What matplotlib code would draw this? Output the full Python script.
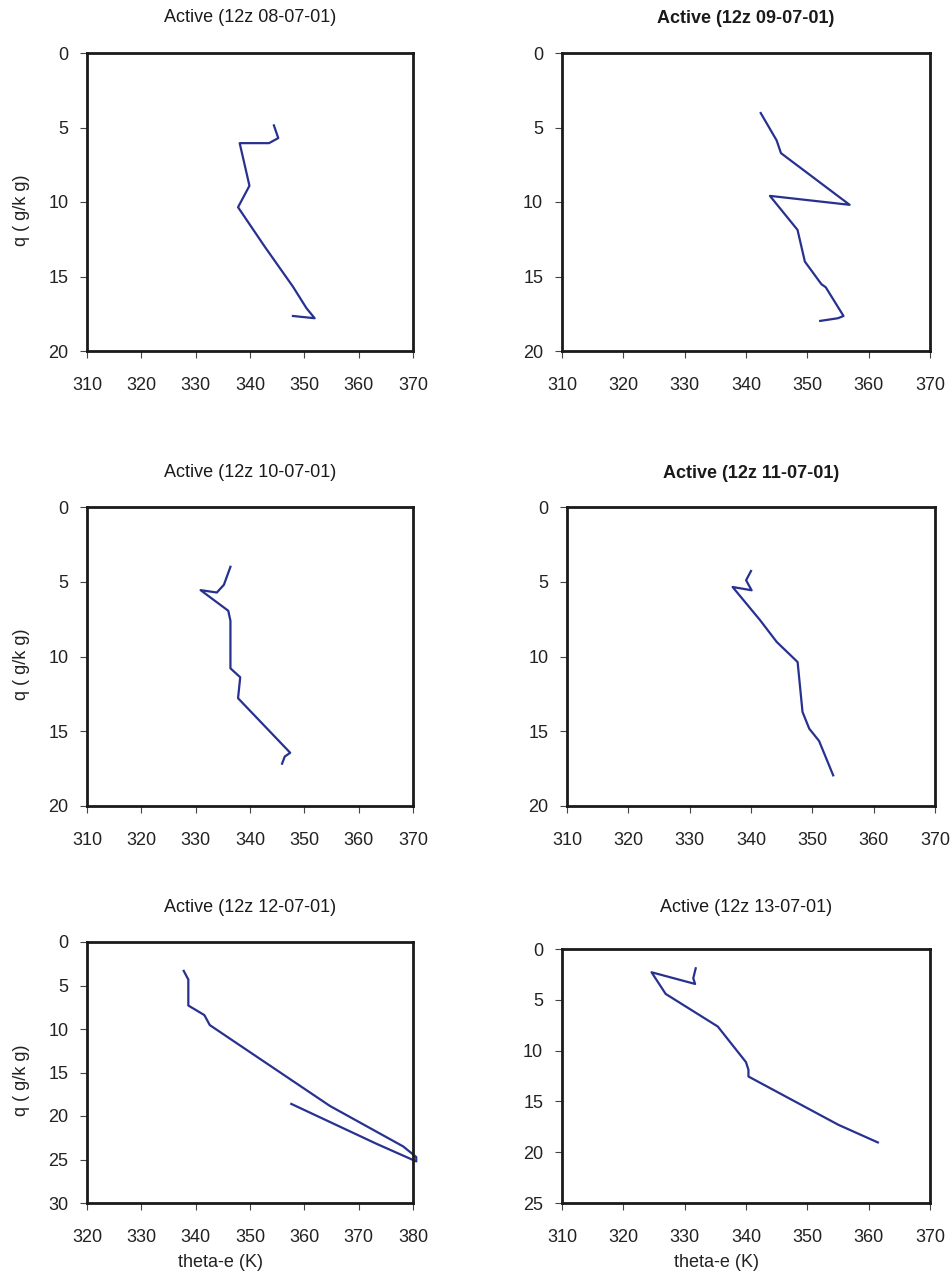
#!/usr/bin/env python3
"""
Theta-e against q profiles, six active days
"""
import matplotlib
matplotlib.use('Agg')
import matplotlib.pyplot as plt

titles = ['Active (12z 08-07-01)', 'Active (12z 09-07-01)',
          'Active (12z 10-07-01)', 'Active (12z 11-07-01)',
          'Active (12z 12-07-01)', 'Active (12z 13-07-01)']
bold = [False, True, False, True, False, False]

te_0807 = [344.4, 345.2, 343.5, 338.1, 339.9, 337.8, 342.7, 347.9, 350.4, 351.9, 347.9]
q_0807 = [4.86, 5.71, 6.05, 6.05, 8.91, 10.35, 12.99, 15.68, 17.13, 17.8, 17.65]

te_0907 = [342.4, 345.0, 345.7, 356.9, 343.9, 348.4, 349.6, 352.3, 353.0, 355.9, 355.0, 352.1]
q_0907 = [4.03, 5.87, 6.72, 10.19, 9.59, 11.87, 14.0, 15.52, 15.72, 17.65, 17.8, 17.98]

te_1007 = [336.4, 335.2, 333.9, 330.9, 336.0, 336.4, 336.4, 338.2, 337.8, 347.4, 346.4, 345.9]
q_1007 = [4.0, 5.2, 5.72, 5.56, 6.94, 7.61, 10.79, 11.39, 12.79, 16.44, 16.69, 17.17]

te_1107 = [340.0, 339.2, 340.1, 337.0, 341.5, 344.2, 347.6, 348.4, 349.5, 351.1, 353.4]
q_1107 = [4.28, 4.9, 5.57, 5.35, 7.58, 9.03, 10.37, 13.71, 14.83, 15.65, 17.95]

te_1207 = [337.8, 338.65, 338.65, 341.6, 342.6, 364.7, 378.2, 380.6, 380.6, 373.3, 357.6]
q_1207 = [3.32, 4.32, 7.3, 8.4, 9.55, 18.84, 23.5, 24.72, 25.22, 23.2, 18.61]

te_1307 = [331.8, 331.4, 331.7, 324.6, 326.9, 335.4, 340.0, 340.4, 340.4, 355.05, 361.5]
q_1307 = [1.9, 2.88, 3.44, 2.29, 4.42, 7.63, 11.14, 11.89, 12.55, 17.3, 19.04]

series = [(te_0807, q_0807), (te_0907, q_0907), (te_1007, q_1007),
          (te_1107, q_1107), (te_1207, q_1207), (te_1307, q_1307)]
xlims = [(310, 370), (310, 370), (310, 370), (310, 370), (320, 380), (310, 370)]
ymax = [20, 20, 20, 20, 30, 25]

W, H = 950, 1274
# axes boxes in pixels: left, top, right, bottom
boxes = [(87, 53, 413, 351), (562, 53, 930, 351),
         (87, 507, 413, 806), (567, 507, 935, 806),
         (87, 942, 413, 1203), (562, 949, 930, 1203)]
title_y = [22, 23, 477, 478, 912, 912]

LINE = '#27318F'
FONT = 'Liberation Sans'
plt.rcParams['font.family'] = [FONT, 'DejaVu Sans']


def main():
  fig = plt.figure(figsize=(W / 100, H / 100), dpi=100)
  for i, (te, q) in enumerate(series):
    l, t, r, b = boxes[i]
    ax = fig.add_axes([l / W, 1 - b / H, (r - l) / W, (b - t) / H])
    ax.plot(te, q, color=LINE, linewidth=1.6, clip_on=False)
    ax.set_xlim(*xlims[i])
    ax.set_ylim(ymax[i], 0)
    ax.set_xticks(range(xlims[i][0], xlims[i][1] + 1, 10))
    ax.set_yticks(range(0, ymax[i] + 1, 5))
    for s in ax.spines.values():
      s.set_linewidth(2.0)
      s.set_color('#1a1a1a')
    ax.tick_params(axis='both', direction='out', length=5, width=0.8,
                   color='#444444', labelsize=13, labelcolor='#222222')
    ax.tick_params(axis='x', pad=14)
    ax.tick_params(axis='y', pad=8.5)
    cx = (l + r) / 2
    fig.text(cx / W, 1 - title_y[i] / H, titles[i], ha='center', va='baseline',
             fontsize=13, color='#1a1a1a',
             fontweight='bold' if bold[i] else 'normal')
    if i % 2 == 0:
      fig.text(22 / W, 1 - ((t + b) / 2 + 8) / H, 'q ( g/k g)', rotation=90,
               ha='center', va='center', fontsize=13, color='#222222')
    if i >= 4:
      fig.text((cx - 29) / W, 1 - 1267 / H, 'theta-e (K)', ha='center',
               va='baseline', fontsize=13, color='#222222')
  fig.savefig('out.png', dpi=100)


if __name__ == '__main__':
  main()
